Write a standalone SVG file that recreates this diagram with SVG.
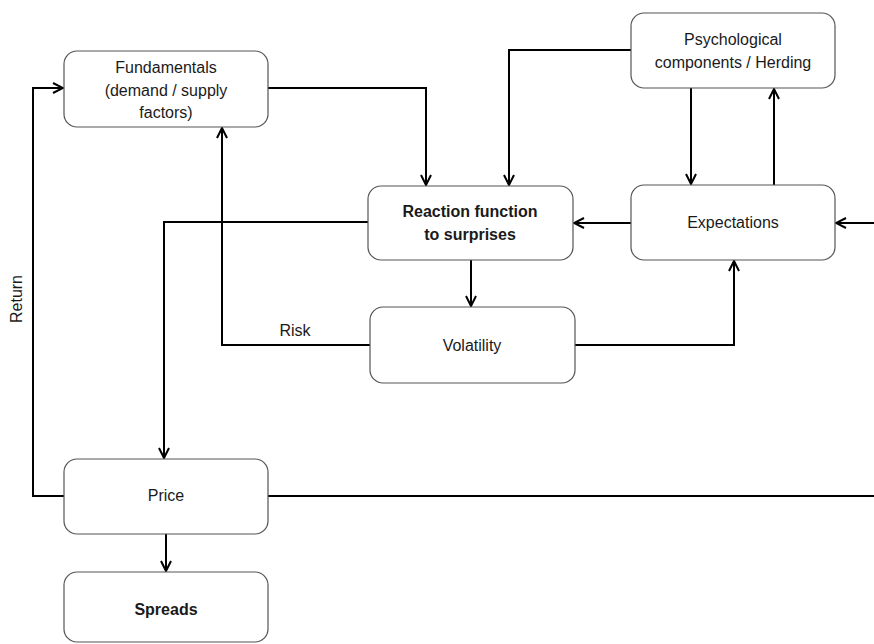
<svg xmlns="http://www.w3.org/2000/svg" width="874" height="644" viewBox="0 0 874 644">
<style>
.box{fill:#fff;stroke:#555;stroke-width:1.2}
.t{font-family:"Liberation Sans",Arial,sans-serif;font-size:16px;fill:#1a1a1a;text-anchor:middle}
.b{font-weight:bold}
.c{fill:none;stroke:#000;stroke-width:2}
</style>
<defs>
<marker id="ah" viewBox="0 0 12 12" refX="11" refY="6" markerWidth="12" markerHeight="12" markerUnits="userSpaceOnUse" orient="auto">
<path d="M1,1 L11,6 L1,11" fill="none" stroke="#000" stroke-width="2"/>
</marker>
</defs>
<rect width="874" height="644" fill="#fff"/>
<g id="connectors">
<path class="c" d="M64,496 H33 V88 H63" marker-end="url(#ah)"/>
<path class="c" d="M268,88 H426 V185" marker-end="url(#ah)"/>
<path class="c" d="M631,50 H509 V185" marker-end="url(#ah)"/>
<path class="c" d="M691,88 V184" marker-end="url(#ah)"/>
<path class="c" d="M774,185 V89" marker-end="url(#ah)"/>
<path class="c" d="M631,223 H574" marker-end="url(#ah)"/>
<path class="c" d="M874,223 H836" marker-end="url(#ah)"/>
<path class="c" d="M471,260 V306" marker-end="url(#ah)"/>
<path class="c" d="M370,345 H222 V128" marker-end="url(#ah)"/>
<path class="c" d="M575,345 H734 V261" marker-end="url(#ah)"/>
<path class="c" d="M368,222 H164 V458" marker-end="url(#ah)"/>
<path class="c" d="M166,534 V571" marker-end="url(#ah)"/>
<path class="c" d="M268,496 H874"/>
<text class="t" x="295" y="336">Risk</text>
<text class="t" transform="translate(22,299) rotate(-90)">Return</text>
</g>
<g id="fundamentals">
<rect class="box" x="64" y="51" width="204" height="76" rx="13"/>
<text class="t" x="166" y="73">Fundamentals</text>
<text class="t" x="166" y="96">(demand / supply</text>
<text class="t" x="166" y="118">factors)</text>
</g>
<g id="psych">
<rect class="box" x="631" y="13" width="204" height="75" rx="13"/>
<text class="t" x="733" y="45">Psychological</text>
<text class="t" x="733" y="68">components / Herding</text>
</g>
<g id="reaction">
<rect class="box" x="368" y="186" width="205" height="74" rx="13"/>
<text class="t b" x="470" y="217">Reaction function</text>
<text class="t b" x="470" y="240">to surprises</text>
</g>
<g id="expectations">
<rect class="box" x="631" y="185" width="204" height="75" rx="13"/>
<text class="t" x="733" y="228">Expectations</text>
</g>
<g id="volatility">
<rect class="box" x="370" y="307" width="205" height="76" rx="13"/>
<text class="t" x="472" y="351">Volatility</text>
</g>
<g id="price">
<rect class="box" x="64" y="459" width="204" height="75" rx="13"/>
<text class="t" x="166" y="501">Price</text>
</g>
<g id="spreads">
<rect class="box" x="64" y="572" width="204" height="70" rx="13"/>
<text class="t b" x="166" y="615">Spreads</text>
</g>
</svg>
